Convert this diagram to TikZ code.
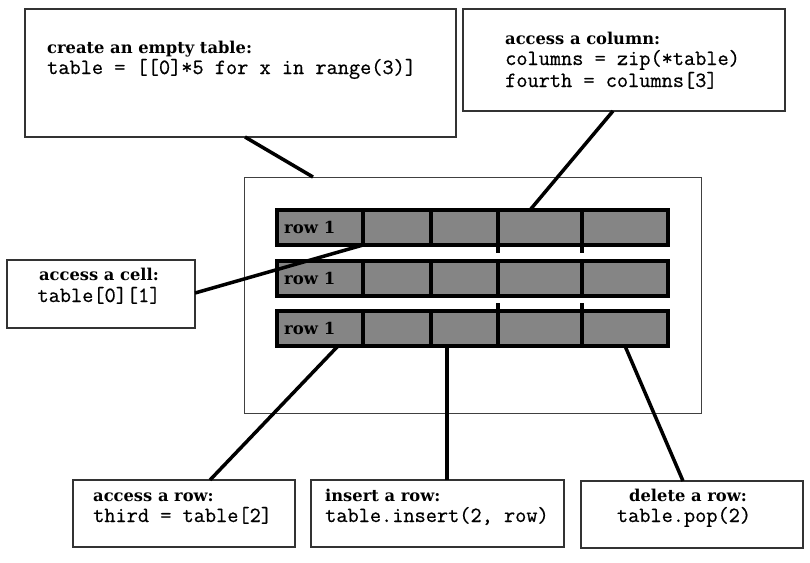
\documentclass[tikz,border=0pt]{standalone}
\usepackage{fontspec}
\setmainfont{DejaVu Serif}
\setmonofont[FakeBold=0.6]{Latin Modern Mono}
\begin{document}
\begin{tikzpicture}[x=1pt,y=-1pt,
  infobox/.style={draw=black!80, line width=1.1pt, fill=white, inner sep=0pt},
  lbl/.style={inner sep=0pt, font=\bfseries\fontsize{16.3}{19}\selectfont},
  code/.style={inner sep=0pt, font=\ttfamily\fontsize{21.7}{22}\selectfont},
  cellbox/.style={draw=black, line width=3.2pt, fill=black!48, inner sep=0pt, outer sep=0pt, minimum height=35pt},
  rowlbl/.style={inner sep=0pt, font=\bfseries\fontsize{16.5}{18}\selectfont},
  conn/.style={line width=3.5pt, black},
  colmark/.style={line width=3.2pt, black}
]
\useasboundingbox (0,0) rectangle (810,562);
\fill[white] (0,0) rectangle (810,562);

% central frame
\node[infobox, draw=black!75, line width=1pt, minimum width=457pt, minimum height=236pt] (frame) at (472.5,295) {};

% rows of cells
\foreach \r/\y in {1/227.5, 2/278.5, 3/328.5} {
  \node[cellbox, minimum width=86pt] (r\r c1) at (320,\y) {};
  \node[cellbox, minimum width=68pt] (r\r c2) at (397,\y) {};
  \node[cellbox, minimum width=67pt] (r\r c3) at (464.5,\y) {};
  \node[cellbox, minimum width=84pt] (r\r c4) at (540,\y) {};
  \node[cellbox, minimum width=86pt] (r\r c5) at (625,\y) {};
  \node[rowlbl, anchor=west] (lab\r) at (284,\y) {row 1};
}

% column marks between rows
\coordinate (m1a) at (498,253);
\coordinate (m1b) at (582,253);
\coordinate (m2a) at (498,303);
\coordinate (m2b) at (582,303);
\draw[colmark] (r1c4.south west) -- (m1a);
\draw[colmark] (r1c4.south east) -- (m1b);
\draw[colmark] (r3c4.north west) -- (m2a);
\draw[colmark] (r3c4.north east) -- (m2b);

% info boxes
\node[infobox, minimum width=431pt, minimum height=128pt] (create) at (240.5,73) {};
\node[lbl, anchor=base west] (createL) at (47,53) {create an empty table:};
\node[code, anchor=base west] (createC) at (47,74) {table = [[0]*5 for x in range(3)]};

\node[infobox, minimum width=322pt, minimum height=102pt] (column) at (624,60) {};
\node[lbl, anchor=base west] (columnL) at (505,44) {access a column:};
\node[code, anchor=base west] (columnC1) at (505,65) {columns = zip(*table)};
\node[code, anchor=base west] (columnC2) at (505,87) {fourth = columns[3]};

\node[infobox, minimum width=188pt, minimum height=68pt] (cell) at (101,294) {};
\node[lbl, anchor=base] (cellL) at (99,280) {access a cell:};
\node[code, anchor=base] (cellC) at (99,302) {table[0][1]};

\node[infobox, minimum width=222pt, minimum height=67pt] (arow) at (184,513.5) {};
\node[lbl, anchor=base west] (arowL) at (93,501) {access a row:};
\node[code, anchor=base west] (arowC) at (93,522) {third = table[2]};

\node[infobox, minimum width=253pt, minimum height=67pt] (irow) at (437.5,513.5) {};
\node[lbl, anchor=base west] (irowL) at (325,501) {insert a row:};
\node[code, anchor=base west] (irowC) at (325,522) {table.insert(2, row)};

\node[infobox, minimum width=222pt, minimum height=67pt] (drow) at (692,514.5) {};
\node[lbl, anchor=base] (drowL) at (688,501) {delete a row:};
\node[code, anchor=base] (drowC) at (684,522) {table.pop(2)};

% connectors
\coordinate (p1) at (245,137);
\coordinate (q1) at (313,177);
\draw[conn] (p1) -- (q1);
\coordinate (p2) at (613,111);
\coordinate (q2) at (530,210);
\draw[conn] (p2) -- (q2);
\coordinate (p3) at (195,293);
\draw[conn] (p3) -- (r1c2.south west);
\coordinate (p4) at (210,480);
\coordinate (q4) at (338,346);
\draw[conn] (p4) -- (q4);
\coordinate (p5) at (447,480);
\coordinate (q5) at (447,346);
\draw[conn] (p5) -- (q5);
\coordinate (p6) at (683,481);
\coordinate (q6) at (625,346);
\draw[conn] (p6) -- (q6);
\end{tikzpicture}
\end{document}
